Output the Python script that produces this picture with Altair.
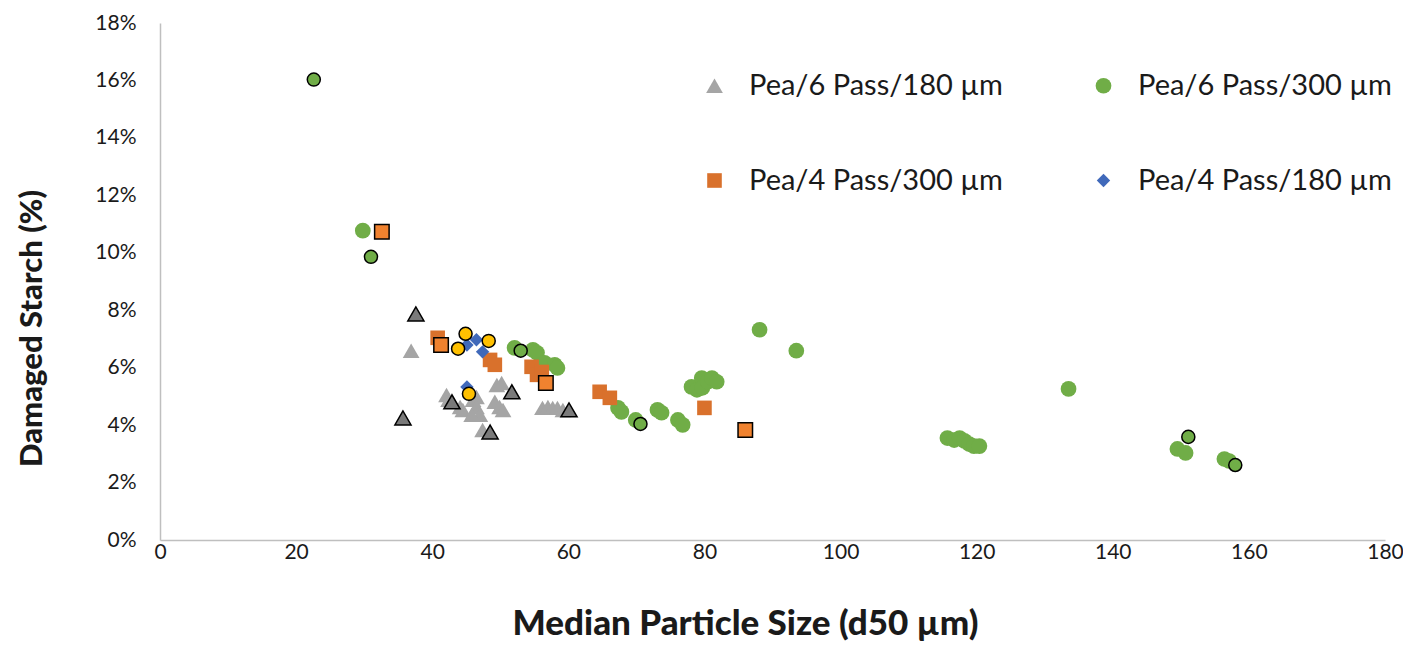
import altair as alt
import pandas as pd

# ---- data ----
series_names = ["Pea/6 Pass/180 µm", "Pea/6 Pass/300 µm", "Pea/4 Pass/300 µm", "Pea/4 Pass/180 µm"]
series_colors = ["#A5A5A5", "#70AD47", "#D9712C", "#4069BA"]
series_shapes = ["triangle-up", "circle", "square", "diamond"]
series_sizes = [280, 180, 210, 280]

# Pea/6 Pass/180 µm (grey triangles)
p6_180_x = [36.9, 42.1, 42.4, 44.1, 44.5, 46.0, 46.5, 46.5, 47.0, 45.8, 49.5, 50.2, 49.2, 49.9, 50.4, 47.4,
            56.2, 57.0, 57.7, 58.4, 59.2]
p6_180_y = [6.59, 5.05, 4.88, 4.63, 4.53, 4.88, 4.98, 4.63, 4.36, 4.36, 5.40, 5.47, 4.81, 4.63, 4.53, 3.83,
            4.60, 4.63, 4.60, 4.60, 4.53]

# Pea/6 Pass/300 µm (green circles)
p6_300_x = [29.8, 52.1, 54.8, 55.4, 56.5, 58.0, 58.4, 67.3, 67.8, 69.9, 73.1, 73.7, 76.1, 76.8,
            78.1, 78.9, 79.6, 79.7, 80.5, 81.1, 81.8, 88.1, 93.5,
            115.7, 116.7, 117.5, 118.2, 118.9, 119.6, 120.4, 133.5, 149.5, 150.7, 156.4, 157.1]
p6_300_y = [10.77, 6.69, 6.62, 6.52, 6.17, 6.10, 5.99, 4.60, 4.46, 4.18, 4.53, 4.43, 4.18, 4.01,
            5.33, 5.23, 5.64, 5.30, 5.51, 5.64, 5.51, 7.32, 6.59,
            3.55, 3.48, 3.55, 3.45, 3.34, 3.27, 3.27, 5.26, 3.17, 3.03, 2.82, 2.75]

# Pea/4 Pass/300 µm (orange squares)
p4_300_x = [40.8, 48.5, 49.2, 54.6, 55.4, 56.1, 64.6, 66.1, 80.0]
p4_300_y = [7.04, 6.27, 6.10, 6.03, 5.75, 5.85, 5.16, 4.95, 4.60]

# Pea/4 Pass/180 µm (blue diamonds)
p4_180_x = [45.1, 46.5, 47.4, 45.1]
p4_180_y = [6.79, 6.97, 6.55, 5.33]

# highlighted (outlined) points, not in legend
hl_tri_x = [37.6, 35.7, 42.9, 48.5, 51.7, 60.1]
hl_tri_y = [7.87, 4.25, 4.81, 3.76, 5.16, 4.53]
hl_green_x = [22.6, 31.0, 53.0, 70.6, 151.1, 158.0]
hl_green_y = [16.03, 9.86, 6.59, 4.04, 3.59, 2.61]
hl_orange_x = [32.6, 41.3, 56.7, 86.0]
hl_orange_y = [10.73, 6.79, 5.47, 3.83]
hl_yellow_x = [44.9, 43.8, 48.3, 45.4]
hl_yellow_y = [7.18, 6.66, 6.93, 5.09]

x_ticks = [0, 20, 40, 60, 80, 100, 120, 140, 160, 180]
y_ticks = [0, 2, 4, 6, 8, 10, 12, 14, 16, 18]

FONT = "Lato"

rows = []
for name, xs, ys in zip(series_names, [p6_180_x, p6_300_x, p4_300_x, p4_180_x],
                        [p6_180_y, p6_300_y, p4_300_y, p4_180_y]):
    for a, b in zip(xs, ys):
        rows.append({"series": name, "x": a, "y": b / 100})
main_df = pd.DataFrame(rows)

def hl_df(xs, ys):
    return pd.DataFrame({"x": xs, "y": [v / 100 for v in ys]})

x_scale = alt.Scale(domain=[0, 180], nice=False)
y_scale = alt.Scale(domain=[0, 0.18], nice=False)

x_enc = alt.X("x:Q", scale=x_scale,
              axis=alt.Axis(values=x_ticks, title="Median Particle Size (d50 µm)", grid=False,
                            ticks=False, domainColor="#BFBFBF", domainWidth=1.5, labelFlush=False,
                            labelFont=FONT, labelFontSize=21, labelColor="#1a1a1a", labelPadding=1,
                            titleFont=FONT, titleFontSize=35, titleFontWeight=900, titleColor="#1a1a1a",
                            titlePadding=44, titleX=585))
y_enc = alt.Y("y:Q", scale=y_scale,
              axis=alt.Axis(values=[v / 100 for v in y_ticks], format=".0%", title="Damaged Starch (%)",
                            grid=False, ticks=False, domainColor="#BFBFBF", domainWidth=1.5,
                            labelFont=FONT, labelFontSize=21, labelColor="#1a1a1a", labelPadding=24,
                            titleFont=FONT, titleFontSize=31, titleFontWeight=900, titleColor="#1a1a1a",
                            titlePadding=46, titleY=305))

main = alt.Chart(main_df).mark_point(filled=True, opacity=1).encode(
    x=x_enc, y=y_enc,
    color=alt.Color("series:N", scale=alt.Scale(domain=series_names, range=series_colors),
                    legend=alt.Legend(title=None, orient="none", legendX=540, legendY=48, columns=2,
                                      direction="horizontal",
                                      labelFont=FONT, labelFontSize=29, labelColor="#1a1a1a",
                                      symbolSize=360, symbolStrokeWidth=0, labelOffset=20,
                                      rowPadding=65, columnPadding=86, labelLimit=400)),
    shape=alt.Shape("series:N", scale=alt.Scale(domain=series_names, range=series_shapes)),
    size=alt.Size("series:N", scale=alt.Scale(domain=series_names, range=series_sizes), legend=None),
)

def hl_layer(xs, ys, shape, fill, size):
    return alt.Chart(hl_df(xs, ys)).mark_point(
        shape=shape, filled=True, fill=fill, stroke="#000000", strokeWidth=1.5, opacity=1, size=size
    ).encode(x="x:Q", y="y:Q")

layers = [
    main,
    hl_layer(hl_tri_x, hl_tri_y, "triangle-up", "#7A7A7A", 260),
    hl_layer(hl_green_x, hl_green_y, "circle", "#70AD47", 170),
    hl_layer(hl_orange_x, hl_orange_y, "square", "#F0822F", 210),
    hl_layer(hl_yellow_x, hl_yellow_y, "circle", "#FFC000", 170),
]

chart = alt.layer(*layers).properties(
    width=1225, height=517,
    autosize=alt.AutoSizeParams(type="none"),
    padding={"left": 152, "top": 15, "right": 18, "bottom": 101},
    background="white",
).configure_view(strokeWidth=0)

chart.save("out.html", embed_options={"renderer": "svg", "actions": False})
